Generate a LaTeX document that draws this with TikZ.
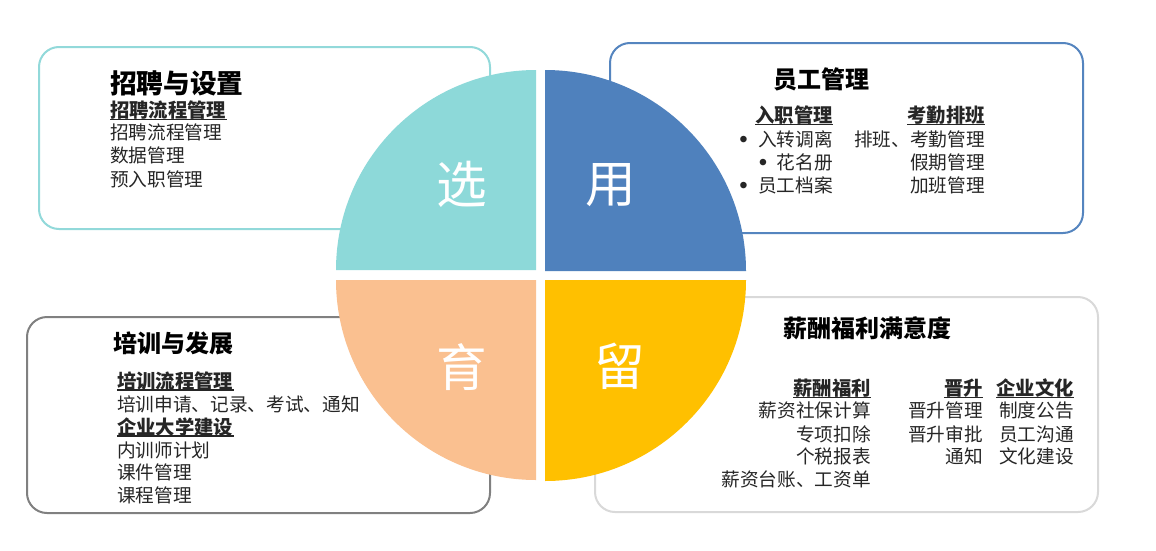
\documentclass[tikz,border=0pt]{standalone}
\usepackage{fontspec}
\newfontfamily\cjk{Noto Sans CJK SC}
\newfontfamily\lat{Liberation Sans}
\definecolor{qteal}{HTML}{8DD9D9}
\definecolor{qblue}{HTML}{4F81BD}
\definecolor{qpeach}{HTML}{FAC090}
\definecolor{qyellow}{HTML}{FFC000}
\definecolor{bteal}{HTML}{92D9DA}
\definecolor{bblue}{HTML}{5585BF}
\definecolor{bgray}{HTML}{808080}
\definecolor{blight}{HTML}{D9D9D9}
\definecolor{txt}{HTML}{262626}
\begin{document}
\begin{tikzpicture}[x=0.75pt,y=-0.75pt,
  box/.style={line width=1.5pt, rounded corners=15pt, fill=white},
  body/.style={font=\cjk\fontsize{14}{17}\selectfont, text=txt, inner sep=0pt, anchor=base west},
  bodyr/.style={body, anchor=base east},
  head/.style={font=\cjk\bfseries\fontsize{14.5}{17}\selectfont, text=txt, inner sep=0pt, anchor=base west},
  headr/.style={head, anchor=base east},
  ttl/.style={font=\cjk\bfseries\fontsize{18}{20}\selectfont, text=black, inner sep=0pt, anchor=base west},
  bul/.style={font=\lat\fontsize{18}{20}\selectfont, text=txt, inner sep=0pt, anchor=base},
  big/.style={font=\cjk\fontsize{38}{40}\selectfont, text=white, inner sep=0pt},
  ul/.style={draw=txt, line width=1.1pt}
]
\fill[white] (0,0) rectangle (1156,550);
\useasboundingbox (0,0) rectangle (1156,550);

% boxes
\draw[box, draw=bteal] (39,47) rectangle (490,229);
\draw[box, draw=bblue] (610,43) rectangle (1083,233);
\draw[box, draw=bgray] (27,317) rectangle (490,513);
\draw[box, draw=blight] (595,297) rectangle (1098,512);

% quadrants
\fill[qteal] (536,270) -- (336,270) arc[start angle=180, end angle=270, radius=200] -- cycle;
\fill[qblue] (545,271) -- (746,271) arc[start angle=0, end angle=-90, radius=201] -- cycle;
\fill[qpeach] (536,280) -- (336,280) arc[start angle=180, end angle=90, radius=200] -- cycle;
\fill[qyellow] (545,280) -- (746,280) arc[start angle=0, end angle=90, radius=201] -- cycle;

\node[big] (qx) at (462,184) {选};
\node[big] (qy) at (611,185) {用};
\node[big] (qu) at (462,367) {育};
\node[big] (ql) at (620,366) {留};

% top-left
\node[ttl, font=\cjk\bfseries\fontsize{20}{22}\selectfont] (t1) at (110,93) {招聘与设置};
\node[head] (t1h) at (110,117.5) {招聘流程管理};
\draw[ul] ([yshift=-1.6pt]t1h.base west) -- ([yshift=-1.6pt]t1h.base east);
\node[body] (t1a) at (110,139.5) {招聘流程管理};
\node[body] (t1b) at (110,162.5) {数据管理};
\node[body] (t1c) at (110,186) {预入职管理};

% top-right
\node[ttl] (t2) at (773,88.5) {员工管理};
\node[headr] (t2h1) at (833,122.5) {入职管理};
\draw[ul] ([yshift=-1.6pt]t2h1.base west) -- ([yshift=-1.6pt]t2h1.base east);
\node[headr] (t2h2) at (985,122.5) {考勤排班};
\draw[ul] ([yshift=-1.6pt]t2h2.base west) -- ([yshift=-1.6pt]t2h2.base east);
\node[bul] (b1) at (743.5,147.5) {•};
\node[bul] (b2) at (763,170) {•};
\node[bul] (b3) at (743.5,193.5) {•};
\node[bodyr] (t2a) at (833,146.5) {入转调离};
\node[bodyr] (t2b) at (833,169) {花名册};
\node[bodyr] (t2c) at (833,192.5) {员工档案};
\node[bodyr] (t2d) at (985,146.5) {排班、考勤管理};
\node[bodyr] (t2e) at (985,169) {假期管理};
\node[bodyr] (t2f) at (985,192.5) {加班管理};

% bottom-left
\node[ttl] (t3) at (113,352.5) {培训与发展};
\node[head] (t3h1) at (117,388) {培训流程管理};
\draw[ul] ([yshift=-1.6pt]t3h1.base west) -- ([yshift=-1.6pt]t3h1.base east);
\node[body] (t3a) at (117,411) {培训申请、记录、考试、通知};
\node[head] (t3h2) at (117,434) {企业大学建设};
\draw[ul] ([yshift=-1.6pt]t3h2.base west) -- ([yshift=-1.6pt]t3h2.base east);
\node[body] (t3b) at (117,457) {内训师计划};
\node[body] (t3c) at (117,479.5) {课件管理};
\node[body] (t3d) at (117,502) {课程管理};

% bottom-right
\node[ttl] (t4) at (783,337.5) {薪酬福利满意度};
\node[headr] (t4h1) at (871,395.5) {薪酬福利};
\draw[ul] ([yshift=-1.6pt]t4h1.base west) -- ([yshift=-1.6pt]t4h1.base east);
\node[headr] (t4h2) at (983,395.5) {晋升};
\draw[ul] ([yshift=-1.6pt]t4h2.base west) -- ([yshift=-1.6pt]t4h2.base east);
\node[headr] (t4h3) at (1074,395.5) {企业文化};
\draw[ul] ([yshift=-1.6pt]t4h3.base west) -- ([yshift=-1.6pt]t4h3.base east);
\node[bodyr] (t4a) at (871,417.5) {薪资社保计算};
\node[bodyr] (t4b) at (871,441.5) {专项扣除};
\node[bodyr] (t4c) at (871,463.5) {个税报表};
\node[bodyr] (t4d) at (871,486.5) {薪资台账、工资单};
\node[bodyr] (t4e) at (983,417.5) {晋升管理};
\node[bodyr] (t4f) at (983,441.5) {晋升审批};
\node[bodyr] (t4g) at (983,463.5) {通知};
\node[bodyr] (t4i) at (1074,417.5) {制度公告};
\node[bodyr] (t4j) at (1074,441.5) {员工沟通};
\node[bodyr] (t4k) at (1074,463.5) {文化建设};
\end{tikzpicture}
\end{document}
